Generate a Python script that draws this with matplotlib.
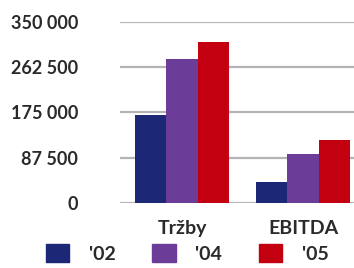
import matplotlib
matplotlib.use("Agg")
import matplotlib.pyplot as plt
import numpy as np
from matplotlib.patches import Patch

categories = ["Tržby", "EBITDA"]
years = ["'02", "'04", "'05"]
vals_02 = [170000, 40500]
vals_04 = [278000, 94500]
vals_05 = [311000, 122000]
yticks = [0, 87500, 175000, 262500, 350000]
ytick_labels = ["0", "87 500", "175 000", "262 500", "350 000"]

colors = ["#1c2776", "#6b3d98", "#c2000f"]
txt = "#2a2a2a"

plt.rcParams['font.family'] = ['Lato', 'DejaVu Sans']

fig = plt.figure(figsize=(3.54, 2.68), dpi=100)
ax = fig.add_axes([0.339, 0.2425, 0.661, 0.6755])

x = np.arange(len(categories))
w = 0.26
for i, (vals, c) in enumerate(zip([vals_02, vals_04, vals_05], colors)):
    ax.bar(x + (i - 1) * w, vals, width=w, color=c, zorder=3)

ax.set_ylim(0, 350000)
ax.set_xlim(-0.512, 1.42)
ax.set_yticks(yticks)
ax.set_yticklabels(ytick_labels, fontsize=13, fontweight='bold', color=txt)
ax.set_xticks(x)
ax.set_xticklabels(categories, fontsize=14, fontweight='bold', color=txt)
ax.tick_params(axis='y', length=0, pad=30)
ax.tick_params(axis='x', length=0, pad=12)
ax.grid(axis='y', color='#b4b4b8', linewidth=1.6, zorder=0)
for s in ax.spines.values():
    s.set_visible(False)

handles = [Patch(color=c, label=y) for c, y in zip(colors, years)]
fig.legend(handles=handles, loc='lower left', bbox_to_anchor=(0.08, -0.045),
           ncol=3, frameon=False, handlelength=1.2, handleheight=1.1,
           handletextpad=1.0, columnspacing=1.9,
           prop={'size': 14, 'weight': 'bold'}, labelcolor=txt)

fig.savefig("out.png", dpi=100)
